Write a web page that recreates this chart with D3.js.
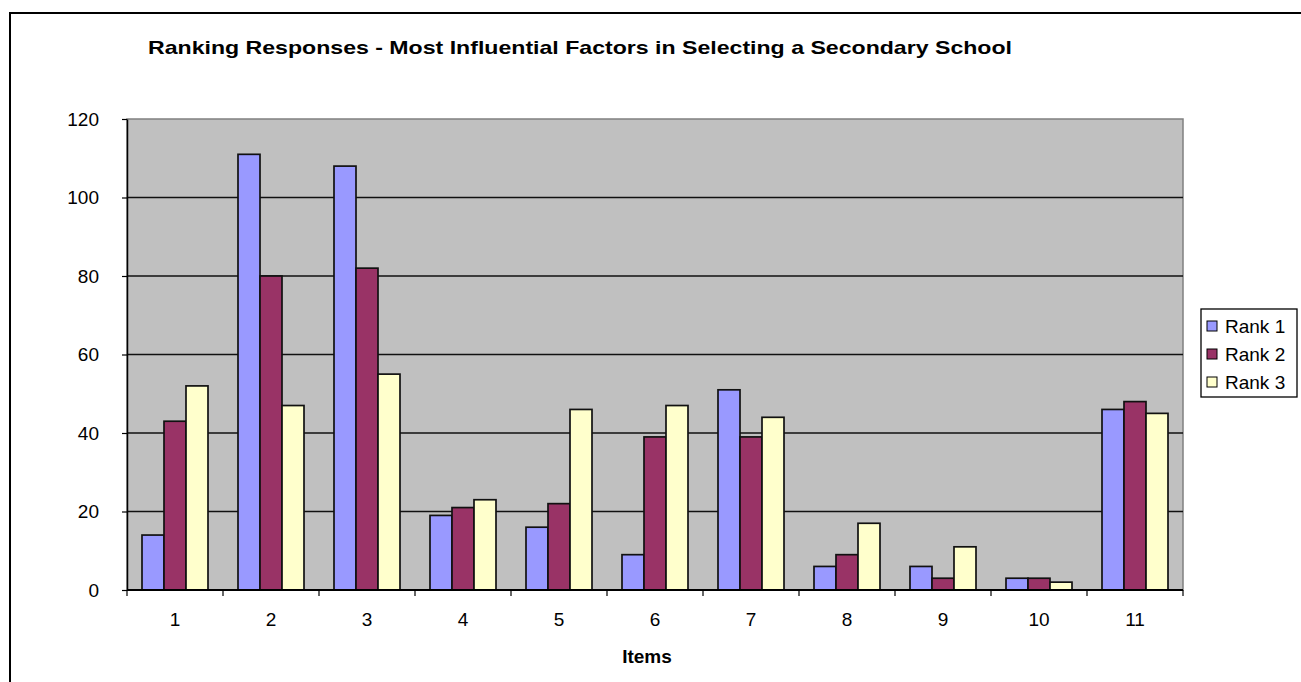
<!DOCTYPE html>
<html>
<head>
<meta charset="utf-8">
<script src="https://cdn.jsdelivr.net/npm/d3@7"></script>
<style>
  html, body { margin: 0; padding: 0; background: #fff; }
  svg { display: block; }
  text { font-family: "Liberation Sans", Arial, sans-serif; fill: #000; }
</style>
</head>
<body>
<script>
// Survey responses: how often each item was ranked 1st, 2nd or 3rd
const items = ["1", "2", "3", "4", "5", "6", "7", "8", "9", "10", "11"];
const seriesNames = ["Rank 1", "Rank 2", "Rank 3"];
const rank1 = [14, 111, 108, 19, 16, 9, 51, 6, 6, 3, 46];
const rank2 = [43, 80, 82, 21, 22, 39, 39, 9, 3, 3, 48];
const rank3 = [52, 47, 55, 23, 46, 47, 44, 17, 11, 2, 45];
const yTicks = [0, 20, 40, 60, 80, 100, 120];
const seriesColors = ["#9999FF", "#993366", "#FFFFCC"];

const W = 1301, H = 682;
const plot = { left: 127, right: 1183, top: 119, bottom: 590 };

const svg = d3.select("body").append("svg").attr("width", W).attr("height", H);

// outer chart frame
svg.append("rect").attr("x", 10).attr("y", 13).attr("width", 1310).attr("height", 700)
  .attr("fill", "#fff").attr("stroke", "#000").attr("stroke-width", 2);

const x0 = d3.scaleBand().domain(items).range([plot.left, plot.right]);
const x1 = d3.scaleBand().domain(seriesNames).range([15, 81]);
const y = d3.scaleLinear().domain([0, 120]).range([plot.bottom, plot.top]);

// plot area background
svg.append("rect").attr("x", plot.left).attr("y", plot.top)
  .attr("width", plot.right - plot.left).attr("height", plot.bottom - plot.top)
  .attr("fill", "#C0C0C0").attr("stroke", "#808080").attr("stroke-width", 1.5);

// horizontal gridlines
svg.append("g").selectAll("line").data(yTicks.filter(t => t > 0 && t < 120)).join("line")
  .attr("x1", plot.left).attr("x2", plot.right)
  .attr("y1", d => y(d)).attr("y2", d => y(d))
  .attr("stroke", "#111").attr("stroke-width", 1.5);

// bars
const rows = items.map((it, i) => ({ item: it, values: [rank1[i], rank2[i], rank3[i]] }));
const groups = svg.append("g").selectAll("g").data(rows).join("g")
  .attr("transform", d => `translate(${x0(d.item)},0)`);
groups.selectAll("rect")
  .data(d => d.values.map((v, k) => ({ name: seriesNames[k], v, k })))
  .join("rect")
  .attr("x", d => x1(d.name))
  .attr("width", x1.bandwidth())
  .attr("y", d => y(d.v))
  .attr("height", d => y(0) - y(d.v))
  .attr("fill", d => seriesColors[d.k])
  .attr("stroke", "#111").attr("stroke-width", 1.7);

// y axis
const yAxis = d3.axisLeft(y).tickValues(yTicks).tickSize(5).tickPadding(23).tickSizeOuter(0);
const gy = svg.append("g").attr("transform", `translate(${plot.left},0)`).call(yAxis);
gy.select(".domain").attr("stroke", "#000").attr("stroke-width", 1.5);
gy.selectAll(".tick line").attr("stroke", "#000").attr("stroke-width", 1.2);
gy.selectAll(".tick text").attr("font-size", 19).attr("font-family", "Liberation Sans, Arial, sans-serif")
  .attr("fill", "#000");

// x axis: tick marks at category boundaries, labels centred in each band
const gx = svg.append("g").attr("transform", `translate(0,${plot.bottom})`);
gx.append("line").attr("x1", plot.left).attr("x2", plot.right).attr("y1", 0).attr("y2", 0)
  .attr("stroke", "#000").attr("stroke-width", 2);
const bounds = items.map(d => x0(d)).concat([plot.right]);
gx.selectAll("line.tk").data(bounds).join("line").attr("class", "tk")
  .attr("x1", d => d).attr("x2", d => d).attr("y1", 0).attr("y2", 6)
  .attr("stroke", "#000").attr("stroke-width", 1.2);
gx.selectAll("text").data(items).join("text")
  .attr("x", d => x0(d) + x0.bandwidth() / 2).attr("y", 36)
  .attr("text-anchor", "middle").attr("font-size", 19).text(d => d);

// title and axis title
svg.append("text").attr("x", 148).attr("y", 54)
  .attr("font-size", 19).attr("font-weight", "bold")
  .attr("textLength", 864).attr("lengthAdjust", "spacingAndGlyphs")
  .text("Ranking Responses - Most Influential Factors in Selecting a Secondary School");
svg.append("text").attr("x", 647).attr("y", 663).attr("text-anchor", "middle")
  .attr("font-size", 19).attr("font-weight", "bold").text("Items");

// legend
const lg = svg.append("g").attr("transform", "translate(1201,309)");
lg.append("rect").attr("width", 96).attr("height", 88)
  .attr("fill", "#fff").attr("stroke", "#000").attr("stroke-width", 1.3);
const li = lg.selectAll("g").data(seriesNames).join("g")
  .attr("transform", (d, i) => `translate(0,${17 + i * 28})`);
li.append("rect").attr("x", 6).attr("y", -5).attr("width", 10).attr("height", 10)
  .attr("fill", (d, i) => seriesColors[i]).attr("stroke", "#000").attr("stroke-width", 1);
li.append("text").attr("x", 24).attr("y", 7).attr("font-size", 19).text(d => d);
</script>
</body>
</html>
